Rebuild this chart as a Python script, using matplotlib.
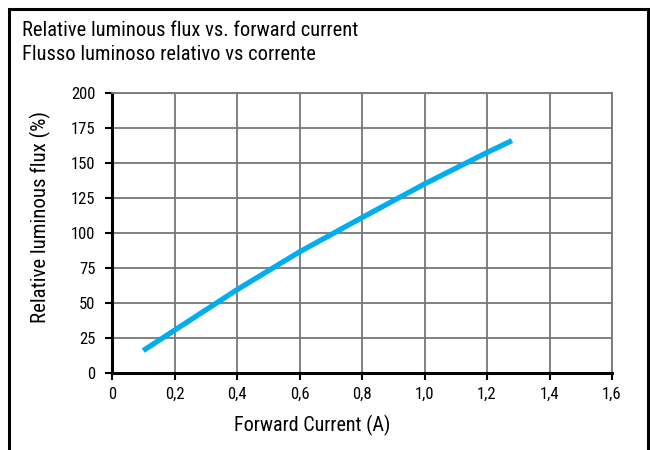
import matplotlib
matplotlib.use("Agg")
import matplotlib.pyplot as plt
from matplotlib.patches import Rectangle

plt.rcParams['font.family'] = ['Roboto Condensed', 'Archivo Narrow', 'PT Sans Narrow', 'Liberation Sans']

# curva
corrente = [0.1, 0.2, 0.4, 0.6, 0.8, 1.0, 1.2, 1.28]
flusso = [16, 30.5, 59.5, 86.5, 111, 135, 157.5, 166]

x_ticks = [0, 0.2, 0.4, 0.6, 0.8, 1.0, 1.2, 1.4, 1.6]
x_labels = ['0', '0,2', '0,4', '0,6', '0,8', '1,0', '1,2', '1,4', '1,6']
y_ticks = [0, 25, 50, 75, 100, 125, 150, 175, 200]

titolo = "Relative luminous flux vs. forward current\nFlusso luminoso relativo vs corrente"

fig = plt.figure(figsize=(6.5, 4.5), dpi=100)
ax = fig.add_axes([112 / 650, 1 - 373 / 450, 500 / 650, 280 / 450])

ax.plot(corrente, flusso, color='#00adef', lw=3.8, solid_capstyle='butt', zorder=3)

ax.set_xlim(0, 1.6)
ax.set_ylim(0, 200)
ax.set_xticks(x_ticks)
ax.set_xticklabels(x_labels)
ax.set_yticks(y_ticks)
ax.grid(True, color='#777777', lw=1.3)
ax.set_axisbelow(True)

for s in ['top', 'right']:
    ax.spines[s].set_color('#777777')
    ax.spines[s].set_linewidth(1.3)
for s in ['left', 'bottom']:
    ax.spines[s].set_color('black')
    ax.spines[s].set_linewidth(2.2)

ax.tick_params(axis='both', direction='out', length=5, width=1.5, labelsize=12)
ax.tick_params(axis='y', pad=7)
ax.tick_params(axis='x', pad=5)
ax.set_xlabel("Forward Current (A)", fontsize=14.5)
ax.set_ylabel("Relative luminous flux (%)", fontsize=15)
ax.xaxis.set_label_coords(0.4, -0.151)
ax.yaxis.set_label_coords(-0.122, 0.557)

fig.text(22 / 650, 1 - 21 / 450, titolo, fontsize=14.8, va='top', ha='left', linespacing=1.3)

# cornice
fig.patches.append(Rectangle((9 / 650, -0.1), 639 / 650, 1.1 - 9 / 450, transform=fig.transFigure,
                             fill=False, edgecolor='black', lw=2.2))

fig.savefig("out.png", dpi=100)
